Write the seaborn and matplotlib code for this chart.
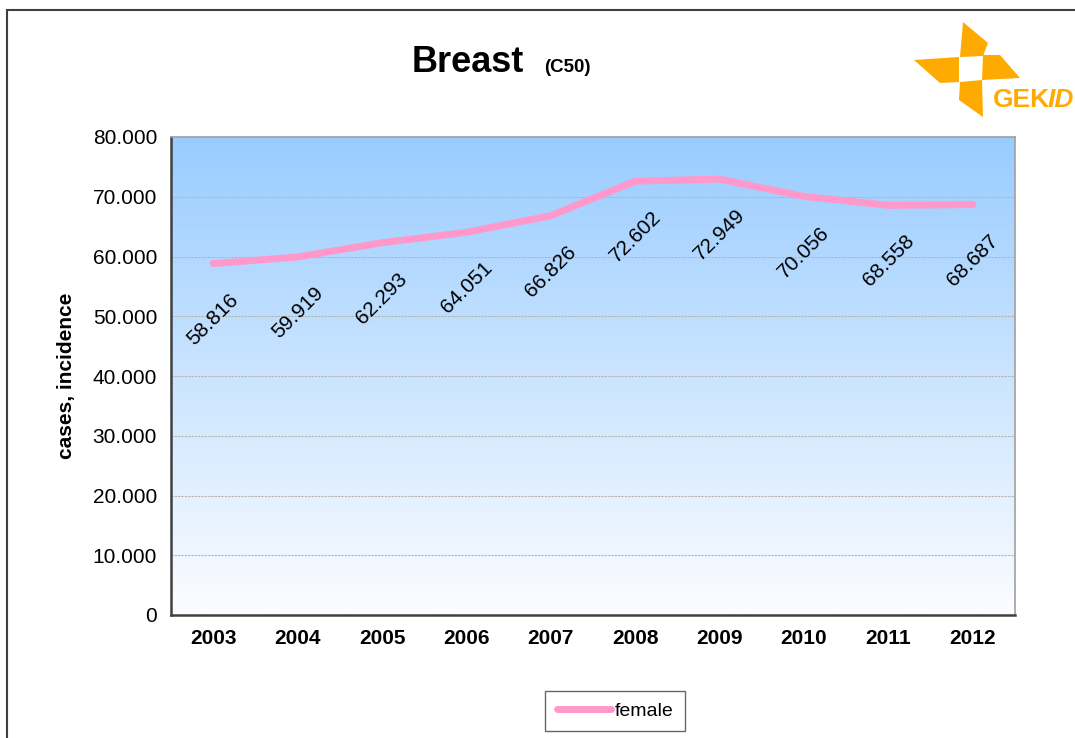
import numpy as np
import pandas as pd
import matplotlib
matplotlib.use("Agg")
import matplotlib.pyplot as plt
import seaborn as sns
from matplotlib.patches import Rectangle, Polygon
from matplotlib.ticker import FuncFormatter, FixedLocator

years = ["2003", "2004", "2005", "2006", "2007", "2008", "2009", "2010", "2011", "2012"]
female = [58816, 59919, 62293, 64051, 66826, 72602, 72949, 70056, 68558, 68687]
labels = ["58.816", "59.919", "62.293", "64.051", "66.826", "72.602", "72.949", "70.056", "68.558", "68.687"]

df = pd.DataFrame({"pos": np.arange(len(years)), "female": female})

sns.set_style("white")
plt.rcParams["font.family"] = ["Liberation Sans", "DejaVu Sans"]
plt.rcParams["text.color"] = "black"
plt.rcParams["axes.labelcolor"] = "black"
plt.rcParams["xtick.color"] = "black"
plt.rcParams["ytick.color"] = "black"

fig = plt.figure(figsize=(10.75, 7.38), dpi=100)
ax = fig.add_axes([171 / 1075, 1 - 615 / 738, 844 / 1075, 478 / 738])

# gradient background
grad = np.linspace(0, 1, 256).reshape(-1, 1)
top = np.array([153, 204, 255]) / 255
bot = np.array([252, 253, 255]) / 255
img = top[None, None, :] * (1 - grad[:, :, None]) + bot[None, None, :] * grad[:, :, None]
ax.imshow(img, extent=[0, 1, 0, 1], transform=ax.transAxes, aspect="auto", zorder=0)

sns.lineplot(data=df, x="pos", y="female", ax=ax, color="#FF99CC", linewidth=5,
             solid_capstyle="round", label="female", zorder=3)

for i, (v, t) in enumerate(zip(female, labels)):
    ax.annotate(t, (i, v), xytext=(0, -40), textcoords="offset points", rotation=45,
                ha="center", va="center", fontsize=15, color="black", zorder=4)

ax.set_xlim(-0.5, len(years) - 0.5)
ax.set_ylim(0, 80000)
ax.yaxis.set_major_locator(FixedLocator(np.arange(0, 80001, 10000)))
ax.yaxis.set_major_formatter(FuncFormatter(lambda v, p: "0" if v == 0 else f"{int(v):,}".replace(",", ".")))
ax.set_xticks(np.arange(len(years)))
ax.set_xticklabels(years, fontsize=15, fontweight="bold")
ax.set_xticks(np.arange(-0.5, len(years)), minor=True)
ax.tick_params(axis="x", which="major", length=0, pad=10)
ax.tick_params(axis="x", which="minor", length=6, width=1.2, color="#404040", direction="out")
ax.tick_params(axis="y", length=6, width=1.2, color="#404040", direction="out", labelsize=15, pad=4)

ax.grid(False)
for y in np.arange(10000, 80000, 10000):
    ax.axhline(y, color="#B8B4AC", linestyle=(0, (2, 1)), linewidth=0.8, zorder=1)

ax.spines["left"].set_color("#404040")
ax.spines["bottom"].set_color("#404040")
ax.spines["left"].set_linewidth(1.8)
ax.spines["bottom"].set_linewidth(1.8)
ax.spines["top"].set_color("#A0A0A0")
ax.spines["right"].set_color("#A0A0A0")
ax.spines["top"].set_linewidth(1.2)
ax.spines["right"].set_linewidth(1.2)

ax.set_xlabel("")
ax.set_ylabel("cases, incidence", fontsize=15, fontweight="bold", labelpad=12)

leg = ax.legend(loc="center", bbox_to_anchor=(615 / 1075, 1 - 711 / 738), bbox_transform=fig.transFigure,
                fontsize=14, frameon=True, fancybox=False, handlelength=2.8, handletextpad=0.15,
                borderpad=0.6, borderaxespad=0)
leg.get_frame().set_edgecolor("#404040")
leg.get_frame().set_linewidth(1.0)
for t in leg.get_texts():
    t.set_color("black")

# title
fig.text(468 / 1075, 1 - 62 / 738, "Breast", fontsize=26, fontweight="bold", ha="center", va="center")
fig.text(567 / 1075, 1 - 68 / 738, "(C50)", fontsize=13.5, fontweight="bold", ha="center", va="center")

# outer frame
fig.patches.append(Rectangle((7 / 1075, -0.1), 1.2, 1.1 - 10 / 738, transform=fig.transFigure,
                             fill=False, edgecolor="#404040", linewidth=1.5))

# logo
orange = "#FFAA00"
blades = [
    [(963, 22), (988, 43), (983, 56), (960, 57)],
    [(914, 60), (959, 57), (959, 82), (940, 83)],
    [(983, 55), (1000, 55), (1020, 78), (982, 80)],
    [(960, 82), (982, 80), (983, 117), (959, 100)],
]
for b in blades:
    fig.patches.append(Polygon([(x / 1075, 1 - y / 738) for x, y in b], closed=True,
                               transform=fig.transFigure, facecolor=orange, edgecolor="none"))
fig.text(993 / 1075, 1 - 100 / 738, "GEK", fontsize=19, fontweight="bold", color=orange, ha="left", va="center")
fig.text(1048 / 1075, 1 - 100 / 738, "ID", fontsize=19, fontweight="bold", style="italic", color=orange,
         ha="left", va="center")

fig.savefig("out.png", dpi=100)
